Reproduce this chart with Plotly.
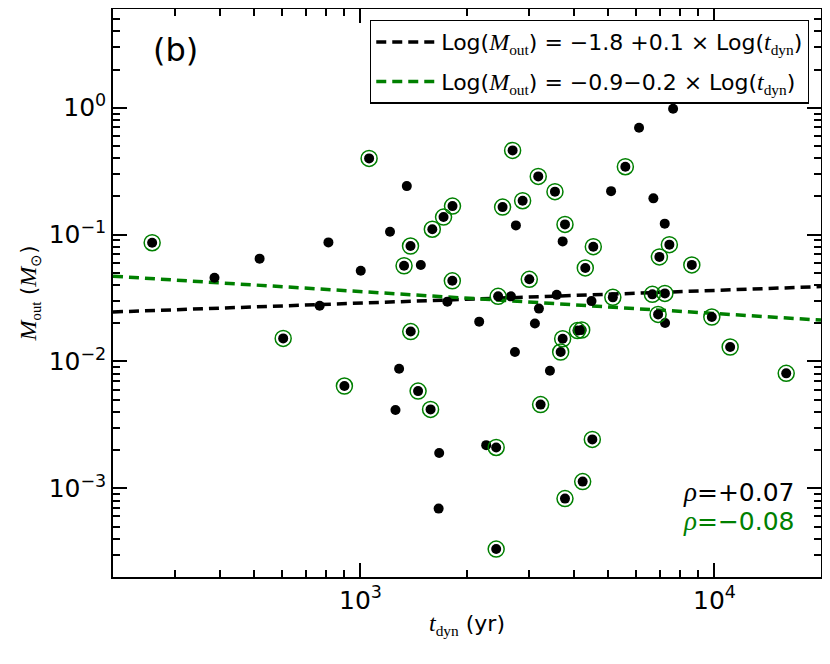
import numpy as np
import plotly.graph_objects as go

# outflow sample: dynamical time (yr) and outflow mass (Msun)
t_dyn = [387, 519, 812, 1002, 1352, 1212, 1481, 767, 1760, 2165,
         1286, 1256, 2266, 1669, 1663, 2749, 3726, 5105, 6124, 7642,
         6723, 7238, 2661, 3585, 4495, 3193, 3111, 7253, 2732, 3430]
m_out = [0.0457, 0.0646, 0.0868, 0.0519, 0.241, 0.1054, 0.0575, 0.0275, 0.0296, 0.0206,
         0.00877, 0.00414, 0.00219, 0.0019, 0.000692, 0.1182, 0.0884, 0.220, 0.696, 0.982,
         0.193, 0.122, 0.0326, 0.0335, 0.0299, 0.0261, 0.0199, 0.0201, 0.01186, 0.00846]

# sub-sample (circled in green)
t_sub = [258, 1058, 1328, 1385, 1596, 1717, 1820, 1818, 2521, 2691,
         2872, 3179, 3544, 3783, 4548, 4317, 5602, 7459, 6991, 8632,
         2999, 2449, 5164, 6679, 7245, 6932, 9831, 605, 1387, 901,
         1455, 1578, 2418, 2418, 3726, 4103, 4217, 3678, 11076, 15950,
         3228, 4519, 4244, 3783]
m_sub = [0.0863, 0.3986, 0.0568, 0.0812, 0.1103, 0.1374, 0.1677, 0.0432, 0.1647, 0.461,
         0.185, 0.2875, 0.218, 0.1203, 0.0803, 0.0546, 0.3427, 0.0833, 0.0667, 0.0577,
         0.0444, 0.0326, 0.032, 0.0338, 0.0344, 0.0235, 0.0224, 0.0152, 0.0172, 0.0064,
         0.00584, 0.00419, 0.0021, 0.000332, 0.0151, 0.0175, 0.0177, 0.01186, 0.013, 0.00806,
         0.00457, 0.00243, 0.00113, 0.00083]

# power-law fits: log M = a + b log t
fit_all = (-1.84, 0.10)
fit_sub = (-0.93, -0.173)
x_range = [200, 20000]
y_range = [2e-4, 6]

x_decades = [2, 3, 4]
y_decades = [-4, -3, -2, -1, 0]

GREEN = "#008000"
SANS = "DejaVu Sans"
SERIF = "Liberation Serif"


def it(s, size=None):
    st = f"font-family:{SERIF};font-style:italic"
    if size:
        st += f";font-size:{size}px"
    return f'<span style="{st}">{s}</span>'


def sub(s):
    return f'<sub><span style="font-family:{SERIF}">{s}</span></sub>'


def fit_label(a_txt, b_txt):
    return ("Log(" + it("M", 24) + sub("out") + ") = " + a_txt + b_txt
            + " × Log(" + it("t", 24) + sub("dyn") + ")")


def power_label(e):
    return "10<sup>" + str(e).replace("-", "−") + "</sup>"


fig = go.Figure()

xs = np.array(x_range, dtype=float)
for (a, b), col, name in [
        (fit_all, "black", fit_label("−1.8 ", "+0.1")),
        (fit_sub, GREEN, fit_label("−0.9", "−0.2"))]:
    fig.add_trace(go.Scatter(x=xs, y=10 ** (a + b * np.log10(xs)),
                             mode="lines", name=name, legendgroup=name,
                             line=dict(color=col, width=3.5, dash="10px,6px")))

fig.add_trace(go.Scatter(x=t_dyn + t_sub, y=m_out + m_sub, mode="markers",
                         showlegend=False,
                         marker=dict(color="black", size=10)))
fig.add_trace(go.Scatter(x=t_sub, y=m_sub, mode="markers", showlegend=False,
                         marker=dict(symbol="circle-open", color=GREEN, size=16,
                                     line=dict(width=1.5, color=GREEN))))
# empty trace so the overlay axes (long decade ticks) get drawn
fig.add_trace(go.Scatter(x=[], y=[], xaxis="x2", yaxis="y2", showlegend=False,
                         hoverinfo="skip"))


def log_axis(decades):
    major = [10.0 ** d for d in decades]
    minor = [k * 10.0 ** d for d in decades for k in range(2, 10)]
    return dict(type="log", showgrid=False, zeroline=False, automargin=False,
                showline=True, linecolor="black", linewidth=1.5,
                mirror="ticks", ticks="inside", ticklen=14, tickwidth=1.5,
                tickcolor="black", tickvals=major,
                ticktext=[power_label(d) for d in decades],
                tickfont=dict(family=SANS, size=25, color="black"),
                minor=dict(ticks="inside", ticklen=7, tickwidth=1.5,
                           tickcolor="black", tickvals=minor, showgrid=False))


def decade_ticks(rng):
    return dict(type="log", range=[np.log10(v) for v in rng], dtick=1,
                showgrid=False, zeroline=False, automargin=False,
                showline=True, linecolor="black", linewidth=1.5,
                mirror="ticks", ticks="inside", ticklen=14, tickwidth=1.5,
                tickcolor="black", showticklabels=False, fixedrange=True)


fig.update_xaxes(range=[np.log10(v) for v in x_range],
                 title=dict(text=it("t", 24) + sub("dyn") + " (yr)",
                            font=dict(family=SANS, size=22, color="black"),
                            standoff=2),
                 **log_axis(x_decades))
fig.update_yaxes(range=[np.log10(v) for v in y_range],
                 title=dict(text=it("M", 24) + sub("out") + " (" + it("M", 24)
                            + sub("⊙") + ")",
                            font=dict(family=SANS, size=21, color="black"),
                            standoff=6),
                 **log_axis(y_decades))

fig.add_annotation(x=0.0876, y=0.928, xref="paper", yref="paper",
                   xanchor="center", yanchor="middle",
                   text="(b)", showarrow=False,
                   font=dict(family=SANS, size=32, color="black"))
fig.add_annotation(x=0.966, y=0.1496, xref="paper", yref="paper",
                   xanchor="right", yanchor="middle",
                   text=it("ρ", 27) + "=+0.07", showarrow=False,
                   font=dict(family=SANS, size=25, color="black"))
fig.add_annotation(x=0.966, y=0.0986, xref="paper", yref="paper",
                   xanchor="right", yanchor="middle",
                   text=it("ρ", 27) + "=−0.08", showarrow=False,
                   font=dict(family=SANS, size=25, color=GREEN))

# the page adds an 8px body margin, so the figure is made a bit smaller
fig.update_layout(template="none", width=822, height=656,
                  margin=dict(l=105, r=9, t=1, b=87),
                  paper_bgcolor="white", plot_bgcolor="white",
                  font=dict(family=SANS, color="black"),
                  xaxis2=dict(overlaying="x", anchor="y", side="bottom",
                              **decade_ticks(x_range)),
                  yaxis2=dict(overlaying="y", anchor="x", side="left",
                              **decade_ticks(y_range)),
                  showlegend=True,
                  legend=dict(x=0.983, y=0.981, xanchor="right", yanchor="top",
                              bgcolor="white", bordercolor="black", borderwidth=1.3,
                              font=dict(family=SANS, size=22, color="black"),
                              tracegroupgap=8, itemwidth=60))

fig.write_html("out.html")
